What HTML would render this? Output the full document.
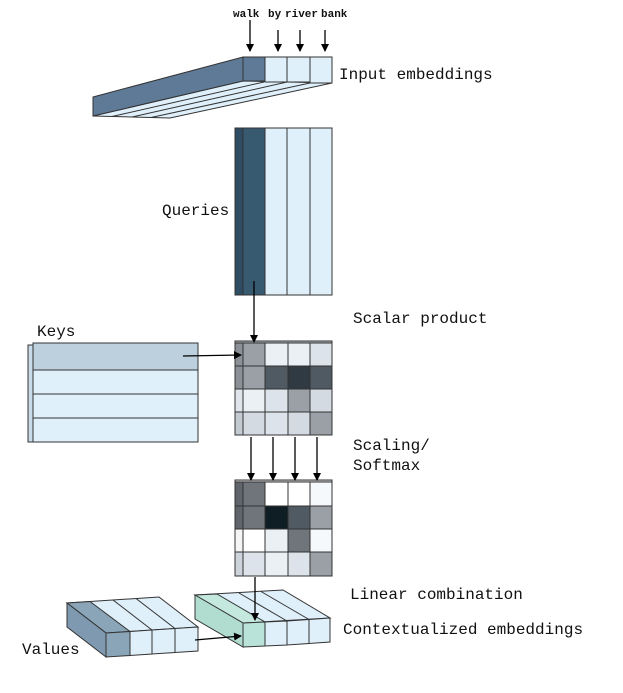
<!DOCTYPE html>
<html><head><meta charset="utf-8"><style>
body{margin:0;background:#fff;width:623px;height:688px;overflow:hidden}
text{font-family:"Liberation Mono",monospace;fill:#111}
</style></head><body>
<svg width="623" height="688" viewBox="0 0 623 688" xmlns="http://www.w3.org/2000/svg">
<defs><marker id="a" markerWidth="8" markerHeight="8" refX="7" refY="4" orient="auto" markerUnits="userSpaceOnUse"><path d="M0,0 L8,4 L0,8 z" fill="#000"/></marker></defs>
<g stroke="#333" stroke-width="1">
<polygon points="243,81 332,83 170,118 93,116" fill="#dff0fb"/>
<line x1="264" y1="82" x2="112" y2="116.5"/><line x1="287" y1="82" x2="132" y2="117"/><line x1="310" y1="83" x2="151" y2="117.5"/>
<polygon points="93,97 243,57 243,81 93,116" fill="#5f7a96"/>
<rect x="243" y="57" width="22" height="24" fill="#5f7a96"/>
<rect x="265" y="57" width="22" height="25" fill="#dff0fb"/>
<rect x="287" y="57" width="23" height="25" fill="#dff0fb"/>
<rect x="310" y="57" width="22" height="26" fill="#dff0fb"/>
<rect x="235" y="128" width="8" height="167" fill="#2e4d62"/>
<rect x="243" y="128" width="22" height="167" fill="#375a70"/>
<rect x="265" y="128" width="22" height="167" fill="#dff0fb"/>
<rect x="287" y="128" width="23" height="167" fill="#dff0fb"/>
<rect x="310" y="128" width="22" height="167" fill="#dff0fb"/>
<rect x="28" y="345" width="5" height="97" fill="#c9dbe8"/>
<rect x="33" y="343" width="165" height="27" fill="#bcd0de"/>
<rect x="33" y="370" width="165" height="24" fill="#dff0fb"/>
<rect x="33" y="394" width="165" height="24" fill="#dff0fb"/>
<rect x="33" y="418" width="165" height="24" fill="#dff0fb"/>
</g>
<g stroke="#333" stroke-width="1">
<rect x="235" y="341" width="97" height="3" fill="#aab0b6"/>
<rect x="235" y="343" width="8" height="23" fill="#8a9096"/><rect x="235" y="366" width="8" height="23" fill="#8a9096"/><rect x="235" y="389" width="8" height="23" fill="#dfe5ea"/><rect x="235" y="412" width="8" height="23" fill="#c3cad1"/>
<rect x="243" y="343" width="22" height="23" fill="#9aa0a6"/><rect x="265" y="343" width="23" height="23" fill="#eaf0f4"/><rect x="288" y="343" width="22" height="23" fill="#eaf0f4"/><rect x="310" y="343" width="22" height="23" fill="#dde3ea"/>
<rect x="243" y="366" width="22" height="23" fill="#9aa0a6"/><rect x="265" y="366" width="23" height="23" fill="#4f5a62"/><rect x="288" y="366" width="22" height="23" fill="#2f3a42"/><rect x="310" y="366" width="22" height="23" fill="#4f5a62"/>
<rect x="243" y="389" width="22" height="23" fill="#eaf0f4"/><rect x="265" y="389" width="23" height="23" fill="#dde3ea"/><rect x="288" y="389" width="22" height="23" fill="#9aa0a6"/><rect x="310" y="389" width="22" height="23" fill="#d3dae1"/>
<rect x="243" y="412" width="22" height="23" fill="#d3dae1"/><rect x="265" y="412" width="23" height="23" fill="#dde3ea"/><rect x="288" y="412" width="22" height="23" fill="#d3dae1"/><rect x="310" y="412" width="22" height="23" fill="#9aa0a6"/>
</g>
<g stroke="#333" stroke-width="1">
<rect x="235" y="480" width="97" height="3" fill="#ccc"/>
<rect x="235" y="482" width="8" height="24" fill="#5f656a"/><rect x="235" y="506" width="8" height="23" fill="#5f656a"/><rect x="235" y="529" width="8" height="23" fill="#f5f5f5"/><rect x="235" y="552" width="8" height="24" fill="#cdd3da"/>
<rect x="243" y="482" width="22" height="24" fill="#6f757a"/><rect x="265" y="482" width="23" height="24" fill="#fff"/><rect x="288" y="482" width="22" height="24" fill="#fff"/><rect x="310" y="482" width="22" height="24" fill="#f5f9fc"/>
<rect x="243" y="506" width="22" height="23" fill="#6f757a"/><rect x="265" y="506" width="23" height="23" fill="#0f1e24"/><rect x="288" y="506" width="22" height="23" fill="#4f5a62"/><rect x="310" y="506" width="22" height="23" fill="#9aa0a6"/>
<rect x="243" y="529" width="22" height="23" fill="#fff"/><rect x="265" y="529" width="23" height="23" fill="#eaf0f4"/><rect x="288" y="529" width="22" height="23" fill="#6f757a"/><rect x="310" y="529" width="22" height="23" fill="#f5f9fc"/>
<rect x="243" y="552" width="22" height="24" fill="#dde3ea"/><rect x="265" y="552" width="23" height="24" fill="#eaf0f4"/><rect x="288" y="552" width="22" height="24" fill="#dde3ea"/><rect x="310" y="552" width="22" height="24" fill="#9aa0a6"/>
<polygon points="67,603 159,597 198,627 106,633" fill="#dff0fb"/>
<polygon points="67,603 90,601.5 130,631.5 106,633" fill="#8aa4b8"/>
<line x1="113" y1="600" x2="152" y2="630"/><line x1="136" y1="598.5" x2="175" y2="628.5"/>
<polygon points="67,603 106,633 106,657 67,627" fill="#7f9ab0"/>
<polygon points="106,633 130,631.5 130,655.5 106,657" fill="#8aa4b8"/>
<polygon points="130,631.5 152,630 152,654 130,655.5" fill="#dff0fb"/>
<polygon points="152,630 175,628.5 175,652.5 152,654" fill="#dff0fb"/>
<polygon points="175,628.5 198,627 198,651 175,652.5" fill="#dff0fb"/>
<polygon points="195,595 283,590 330,618 243,623" fill="#dff0fb"/>
<polygon points="195,595 217,594 265,622 243,623" fill="#c4e8de"/>
<line x1="239" y1="593" x2="287" y2="621"/><line x1="261" y1="591.5" x2="309" y2="619.5"/>
<polygon points="195,595 243,623 243,647 195,619" fill="#b1ddd0"/>
<polygon points="243,623 265,622 265,646 243,647" fill="#b9e3d8"/>
<polygon points="265,622 287,621 287,645 265,646" fill="#dff0fb"/>
<polygon points="287,621 309,619.5 309,643.5 287,645" fill="#dff0fb"/>
<polygon points="309,619.5 330,618 330,642 309,643.5" fill="#dff0fb"/>
</g>
<g stroke="#000" stroke-width="1.3" marker-end="url(#a)">
<line x1="250" y1="20" x2="250" y2="51"/><line x1="278" y1="30" x2="278" y2="51"/><line x1="300" y1="30" x2="300" y2="51"/><line x1="325" y1="30" x2="325" y2="51"/>
<line x1="254" y1="281" x2="254" y2="342"/>
<line x1="183" y1="356" x2="241" y2="355"/>
<line x1="251" y1="437" x2="251" y2="480"/><line x1="273" y1="437" x2="273" y2="480"/><line x1="295" y1="437" x2="295" y2="480"/><line x1="317" y1="437" x2="317" y2="480"/>
<line x1="255" y1="577" x2="255" y2="620"/>
<line x1="195" y1="640" x2="241" y2="636"/>
</g>
<g font-size="11" font-weight="bold">
<text x="233" y="17">walk</text><text x="268" y="17">by</text><text x="285" y="17">river</text><text x="321" y="17">bank</text>
</g>
<g font-size="16">
<text x="339" y="79">Input embeddings</text>
<text x="162" y="215">Queries</text>
<text x="353" y="323">Scalar product</text>
<text x="37" y="336">Keys</text>
<text x="353" y="450">Scaling/</text>
<text x="353" y="470">Softmax</text>
<text x="350" y="599">Linear combination</text>
<text x="343" y="634">Contextualized embeddings</text>
<text x="22" y="654">Values</text>
</g>
</svg>
</body></html>
